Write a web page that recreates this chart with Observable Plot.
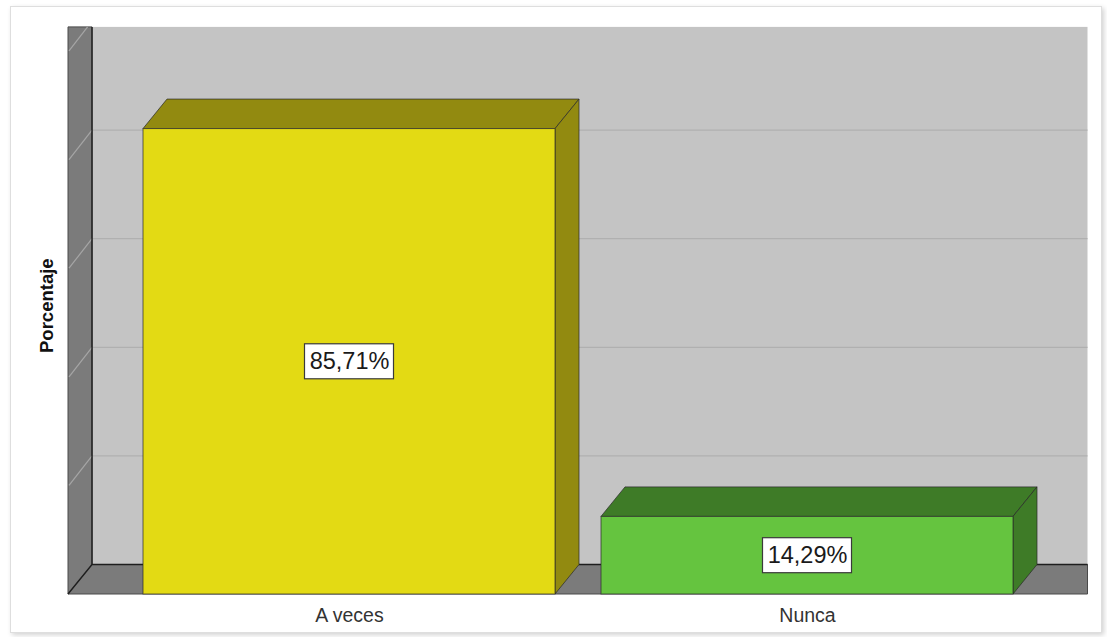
<!DOCTYPE html>
<html>
<head>
<meta charset="utf-8">
<script src="https://cdn.jsdelivr.net/npm/d3@7"></script>
<script src="https://cdn.jsdelivr.net/npm/@observablehq/plot@0.6"></script>
<style>
  html, body { margin: 0; padding: 0; background: #fff; }
  #wrap { position: relative; width: 1107px; height: 637px; overflow: hidden; }
  #border { position: absolute; left: 10px; top: 6px; width: 1092px; height: 627px;
            border: 1px solid #dedede; box-shadow: 2px 2px 5px rgba(0,0,0,0.18); box-sizing: border-box; }
  #chart { position: absolute; left: 0; top: 0; }
</style>
</head>
<body>
<div id="wrap"><div id="border"></div><div id="chart"></div></div>
<script>
// ---- data ----
const categories = ["A veces", "Nunca"];
const percentages = [85.71, 14.29];
const valueLabels = ["85,71%", "14,29%"];
const gridTicks = [20, 40, 60, 80, 100];
const yAxisTitle = "Porcentaje";

// ---- styles ----
const frontColors = ["#e3da14", "#65c43f"];
const darkColors = ["#928a10", "#3e7b27"];
const DX = 24, DY = -29.5;   // 3D depth offset in pixels

const data = categories.map((c, i) => ({cat: c, value: percentages[i], label: valueLabels[i], i}));

// walls, floor and grid
function walls(index, scales, values, dims) {
  const {x, y} = scales;
  const X0 = dims.marginLeft, X1 = dims.width - dims.marginRight;
  const Y0 = y(0);
  const top = dims.marginTop + DY;
  const g = d3.create("svg:g");
  // back wall
  g.append("rect").attr("x", X0 + DX).attr("y", top).attr("width", X1 - X0)
    .attr("height", Y0 + DY - top).attr("fill", "#c4c4c4");
  // back wall grid
  for (const t of gridTicks) {
    const yy = y(t) + DY;
    if (yy < top) continue;
    g.append("line").attr("x1", X0 + DX).attr("x2", X1 + DX).attr("y1", yy).attr("y2", yy)
      .attr("stroke", "#b0b0b0").attr("stroke-width", 1.2);
  }
  // left wall + floor
  const L = [[X0, top], [X0 + DX, top], [X0 + DX, Y0 + DY], [X1 + DX, Y0 + DY], [X1 + DX, Y0], [X0, Y0]];
  g.append("polygon").attr("points", L.map(p => p.join(",")).join(" "))
    .attr("fill", "#7b7b7b").attr("stroke", "#4a4a4a").attr("stroke-width", 1);
  // left wall grid diagonals
  for (const t of gridTicks) {
    const yf = y(t), yb = yf + DY;
    let x2 = X0 + DX, y2 = yb;
    if (yb < top) {
      const f = (yf - top) / (-DY);
      x2 = X0 + DX * f; y2 = top;
    }
    if (yf < top) continue;
    g.append("line").attr("x1", X0 + 1).attr("y1", yf).attr("x2", x2).attr("y2", y2)
      .attr("stroke", "#a6a6a6").attr("stroke-width", 1.2);
  }
  // edges
  g.append("path")
    .attr("d", `M${X0 + DX},${top}V${Y0 + DY}H${X1 + DX}M${X0},${Y0}L${X0 + DX},${Y0 + DY}`)
    .attr("fill", "none").attr("stroke", "#1e1e1e").attr("stroke-width", 1.4);
  return g.node();
}

// 3D faces of bars
function barFaces(index, scales, values, dims) {
  const {x, y} = scales;
  const bw = x.bandwidth();
  const Y0 = y(0);
  const g = d3.create("svg:g");
  for (const d of data) {
    const bx0 = x(d.cat), bx1 = bx0 + bw, by = y(d.value);
    const topF = [[bx0, by], [bx1, by], [bx1 + DX, by + DY], [bx0 + DX, by + DY]];
    const side = [[bx1, by], [bx1 + DX, by + DY], [bx1 + DX, Y0 + DY], [bx1, Y0]];
    for (const poly of [topF, side]) {
      g.append("polygon").attr("points", poly.map(p => p.join(",")).join(" "))
        .attr("fill", darkColors[d.i]).attr("stroke", "#2a2a2a").attr("stroke-opacity", 0.7)
        .attr("stroke-width", 1).attr("stroke-linejoin", "round");
    }
  }
  return g.node();
}

// label boxes
function labelBoxes(index, scales, values, dims) {
  const {x, y} = scales;
  const bw = x.bandwidth();
  const g = d3.create("svg:g");
  for (const d of data) {
    const cx = x(d.cat) + bw / 2, cy = (y(d.value) + y(0)) / 2;
    const w = 89, h = 35;
    g.append("rect").attr("x", cx - w / 2).attr("y", cy - h / 2).attr("width", w).attr("height", h)
      .attr("fill", "#fff").attr("stroke", "#3a3a3a").attr("stroke-width", 1.2);
  }
  return g.node();
}

const plot = Plot.plot({
  width: 1107,
  height: 637,
  marginLeft: 68,
  marginRight: 43.5,
  marginTop: 56.4,
  marginBottom: 43,
  style: {background: "transparent", fontFamily: "'Liberation Sans', Arial, sans-serif", fontSize: "19.5px", color: "#333"},
  x: {type: "band", domain: categories, paddingInner: 0.1, paddingOuter: 0.1356, align: 0.6,
      tickSize: 0, tickPadding: 14, label: null},
  y: {domain: [0, 99], axis: null},
  marks: [
    walls,
    barFaces,
    Plot.barY(data, {x: "cat", y: "value", fill: (d) => frontColors[d.i], stroke: "#2a2a2a", strokeOpacity: 0.7, strokeWidth: 1}),
    labelBoxes,
    Plot.text(data, {x: "cat", y: (d) => d.value / 2, text: "label", fontSize: 23.5, fill: "#1a1a1a"}),
    Plot.text([yAxisTitle], {frameAnchor: "left", textAnchor: "middle", rotate: -90, dx: -21, dy: -20, fontWeight: "bold", fontSize: 18.5, fill: "#111"})
  ]
});
document.getElementById("chart").appendChild(plot);
</script>
</body>
</html>
